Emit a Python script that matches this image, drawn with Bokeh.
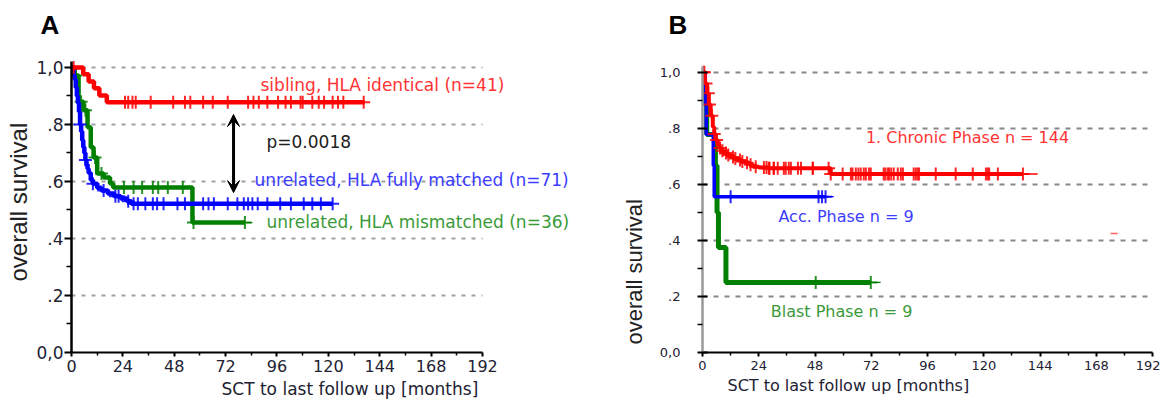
import numpy as np
from bokeh.plotting import figure
from bokeh.layouts import row
from bokeh.models import Label, Arrow, VeeHead, FixedTicker, Title
from bokeh.embed import file_html
from bokeh.resources import INLINE

# ---------------- shared axis data ----------------
x_ticks = [0, 24, 48, 72, 96, 120, 144, 168, 192]
x_minor = [12, 36, 60, 84, 108, 132, 156, 180]
y_ticks = [0, 0.2, 0.4, 0.6, 0.8, 1.0]
y_minor = [0.1, 0.3, 0.5, 0.7, 0.9]
y_tick_labels = ["0,0", ".2", ".4", ".6", ".8", "1,0"]
grid_levels = [0.2, 0.4, 0.6, 0.8, 1.0]

# ---------------- Panel A: donor type ----------------
a_sib_t = [0, 5.5, 8, 10.5, 13, 16.5]
a_sib_s = [1.0, 0.976, 0.951, 0.927, 0.902, 0.878]
a_sib_end = 137
a_sib_cens = [1, 25, 26.5, 28.5, 30, 37, 47.5, 53, 55.5, 61.5, 66, 73, 82.5, 85,
              87.5, 91.5, 96.5, 100, 102.5, 107, 108, 112.5, 115.5, 118, 122,
              124.5, 127, 136.5]

a_mud_t = [0, 1, 1.5, 2, 2.5, 3, 3.5, 4, 4.5, 5, 5.5, 6, 6.5, 7, 7.5, 8, 9, 10,
           12, 14, 17, 20, 23, 26, 28]
a_mud_s = [1.0, 0.972, 0.958, 0.93, 0.9, 0.875, 0.845, 0.80, 0.775, 0.745, 0.72,
           0.70, 0.675, 0.66, 0.645, 0.63, 0.605, 0.592, 0.578, 0.568, 0.558,
           0.548, 0.54, 0.531, 0.522]
a_mud_end = 122
a_mud_cens = [4, 6.5, 10, 15, 20.5, 22, 26.5, 29, 31, 34.5, 38, 40, 43, 49.5, 53,
              61.5, 64, 66.5, 73, 77.5, 80.5, 82.5, 84.5, 87, 91.5, 97.5, 102.5,
              108.5, 112.5, 116.5, 122]

a_mm_t = [0, 1.5, 3.3, 5.6, 7.5, 9, 10.3, 12, 15, 18, 19.5, 56.5]
a_mm_s = [1.0, 0.972, 0.88, 0.85, 0.79, 0.72, 0.684, 0.628, 0.614, 0.593, 0.579, 0.456]
a_mm_end = 81
a_mm_tail = 84.5
a_mm_cens = [2, 4.5, 6.5, 11, 14, 24.5, 29, 33, 38, 40.5, 45, 52, 57, 81]

a_labels = ["sibling, HLA identical (n=41)", "p=0.0018",
            "unrelated, HLA fully matched (n=71)", "unrelated, HLA mismatched (n=36)"]
arrow_x = 75.7
arrow_y = [0.561, 0.835]

# ---------------- Panel B: disease phase ----------------
b_cp_t = [0, 1, 2, 2.7, 3.5, 4.4, 5, 5.7, 6.5, 7.2, 8, 9.1, 10.5, 12, 13.5, 15,
          16.5, 18, 20, 21.5, 24, 28, 54.7]
b_cp_s = [1.0, 0.96, 0.925, 0.885, 0.845, 0.805, 0.78, 0.758, 0.742, 0.73, 0.72,
          0.712, 0.705, 0.698, 0.692, 0.687, 0.682, 0.677, 0.67, 0.663, 0.66,
          0.658, 0.637]
b_cp_end = 136.7
b_cp_tail = 143
b_cp_cens = [0.3, 0.8, 1.5, 2.5, 3, 4, 5, 6, 7.5, 8.5, 10, 11, 13, 14, 16, 17, 19,
             20.5, 22.7, 26.2, 27.3, 28.3, 28.6, 30.3, 30.5, 32.1, 34.7, 35.5,
             36.8, 37.7, 40.7, 42, 47, 47.1, 53.8, 54.7, 59.8, 63.3, 64, 65.4,
             66.5, 67.5, 68.8, 69.7, 71, 71.8, 77.3, 78, 79, 79.6, 80.5, 81.6,
             83.3, 84.6, 85.5, 90.1, 91, 91.8, 92.4, 99.5, 108, 115.3, 120.9,
             121.7, 122.3, 126, 136.7]

b_ap_t = [0, 1.2, 1.6, 4.6, 5.0]
b_ap_s = [1.0, 0.889, 0.778, 0.667, 0.556]
b_ap_end = 52.5
b_ap_tail = 56
b_ap_cens = [12, 49.5, 51, 52.5]

b_bp_t = [0, 0.5, 1.8, 5.5, 6.2, 6.8, 10.0]
b_bp_s = [1.0, 0.889, 0.778, 0.667, 0.5, 0.375, 0.25]
b_bp_end = 71.8
b_bp_tail = 76
b_bp_cens = [48.3, 71.8]

b_stray = ([175.6], [0.425])
b_labels = ["1. Chronic Phase n = 144", "Acc. Phase n = 9", "Blast Phase n = 9"]

x_title = "SCT to last follow up [months]"
y_title = "overall survival"

RED, BLUE, GREEN = "#ff0000", "#0000ff", "#008000"
RED_T, BLUE_T, GREEN_T = "#ff3333", "#3c3cff", "#3a9a3a"
TICK_C = "#222233"
FONT = "DejaVu Sans"


def surv_at(t, s, ct):
    idx = np.searchsorted(np.array(t), np.array(ct), side="right") - 1
    return list(np.array(s)[idx])


def km(p, t, s, end, cens, color, lw, tail=None, msize=13):
    p.step(x=list(t) + [end], y=list(s) + [s[-1]], mode="after",
           line_color=color, line_width=lw)
    if tail is not None:
        p.line(x=[end, tail], y=[s[-1], s[-1]], line_color=color, line_width=1.3)
    p.scatter(x=cens, y=surv_at(t, s, cens), marker="cross", size=msize,
              line_color=color, line_width=2, line_alpha=0.85)


def style(p, xtick_size, ytick_size, y_standoff, x_standoff, y_line_color,
          ytick_in, ytick_out):
    p.outline_line_color = None
    p.background_fill_color = "white"
    p.border_fill_color = "white"
    p.xgrid.visible = False
    xa = p.xaxis[0]
    xa.axis_label = None
    xa.bounds = (x_ticks[0], x_ticks[-1])
    xa.ticker = FixedTicker(ticks=x_ticks, minor_ticks=x_minor)
    xa.axis_line_color = "black"
    xa.axis_line_width = 2
    xa.major_tick_line_color = "black"
    xa.major_tick_line_width = 2
    xa.major_tick_in = 0
    xa.major_tick_out = 4
    xa.minor_tick_line_color = "black"
    xa.minor_tick_line_width = 1.5
    xa.minor_tick_in = 0
    xa.minor_tick_out = 3
    xa.major_label_text_font = FONT
    xa.major_label_text_font_size = xtick_size
    xa.major_label_text_color = TICK_C
    xa.major_label_standoff = x_standoff
    ya = p.yaxis[0]
    ya.axis_label = None
    ya.bounds = (0, 1.02)
    ya.ticker = FixedTicker(ticks=y_ticks, minor_ticks=y_minor)
    ya.major_label_overrides = dict(zip(y_ticks, y_tick_labels))
    ya.axis_line_color = y_line_color
    ya.axis_line_width = 2.5
    ya.major_tick_line_color = "black"
    ya.major_tick_line_width = 2
    ya.major_tick_in = ytick_in
    ya.major_tick_out = ytick_out
    ya.minor_tick_line_color = "black"
    ya.minor_tick_line_width = 1.5
    ya.minor_tick_in = 0
    ya.minor_tick_out = 5
    ya.major_label_text_font = FONT
    ya.major_label_text_font_size = ytick_size
    ya.major_label_text_color = TICK_C
    ya.major_label_standoff = y_standoff


def lab(p, x, y, text, color, size):
    p.add_layout(Label(x=x, y=y, text=text, text_color=color, text_font=FONT,
                       text_font_size=size, text_align="left",
                       text_baseline="middle"))


def side_title(p, side, text, size, font, offset, valign, standoff,
               color="#222222", fstyle="normal"):
    p.add_layout(Title(text=text, align="left", offset=offset,
                       vertical_align=valign, standoff=standoff,
                       text_font=font, text_font_size=size,
                       text_font_style=fstyle, text_color=color), side)


H = 403

# ---------------- figure A ----------------
pA = figure(width=610, height=H, x_range=(0, 251.8), y_range=(0, 1.0877),
            min_border_left=71, min_border_right=0, min_border_top=42,
            min_border_bottom=H - 42 - 310, output_backend="svg",
            toolbar_location=None)
style(pA, "16px", "17px", 1, 3, "black", 0, 7)
pA.ygrid.visible = False
pA.segment(x0=[x_ticks[0]] * len(grid_levels), y0=grid_levels,
           x1=[x_ticks[-1]] * len(grid_levels), y1=grid_levels,
           line_color="#a0a0a0", line_width=2, line_dash="4 6")
km(pA, a_mm_t, a_mm_s, a_mm_end, a_mm_cens, GREEN, 4.5, tail=a_mm_tail)
km(pA, a_mud_t, a_mud_s, a_mud_end, a_mud_cens, BLUE, 4.5)
km(pA, a_sib_t, a_sib_s, a_sib_end, a_sib_cens, RED, 4.5)

pA.add_layout(Arrow(start=VeeHead(size=12, fill_color="black", line_color="black"),
                    end=VeeHead(size=12, fill_color="black", line_color="black"),
                    x_start=arrow_x, y_start=arrow_y[0], x_end=arrow_x, y_end=arrow_y[1],
                    line_width=3, line_color="black"))

lab(pA, 88.3, 0.937, a_labels[0], RED_T, "17px")
lab(pA, 91.1, 0.740, a_labels[1], "#202020", "17px")
lab(pA, 85.5, 0.604, a_labels[2], BLUE_T, "17px")
lab(pA, 91.1, 0.458, a_labels[3], GREEN_T, "17px")

side_title(pA, "above", "A", "26px", "Liberation Sans", -31, "bottom", 5,
           color="black", fstyle="bold")
side_title(pA, "below", x_title, "17px", FONT, 150, "bottom", 4, color=TICK_C)
side_title(pA, "left", y_title, "24px", "Liberation Sans", 71, "bottom", 4)

# ---------------- figure B ----------------
pB = figure(width=550, height=H, x_range=(0, 192.4), y_range=(0, 1.1064),
            min_border_left=92, min_border_right=7, min_border_top=42,
            min_border_bottom=H - 42 - 312, output_backend="svg",
            toolbar_location=None)
style(pB, "13px", "13px", 17, 4, "#999999", 5, 5)
pB.xaxis[0].major_label_text_align = "right"
pB.ygrid.ticker = FixedTicker(ticks=grid_levels)
pB.ygrid.grid_line_color = "#888888"
pB.ygrid.grid_line_dash = "5 6"
pB.ygrid.grid_line_width = 2
km(pB, b_bp_t, b_bp_s, b_bp_end, b_bp_cens, GREEN, 5, tail=b_bp_tail)
km(pB, b_ap_t, b_ap_s, b_ap_end, b_ap_cens, BLUE, 3.5, tail=b_ap_tail)
km(pB, b_cp_t, b_cp_s, b_cp_end, b_cp_cens, RED, 4, tail=b_cp_tail)
pB.scatter(x=b_stray[0], y=b_stray[1], marker="dash", size=7, line_color="#ff6060",
           line_width=1.5)

lab(pB, 69.7, 0.766, b_labels[0], RED_T, "16px")
lab(pB, 32.4, 0.486, b_labels[1], BLUE_T, "16px")
lab(pB, 29.1, 0.145, b_labels[2], GREEN_T, "16px")

side_title(pB, "above", "B", "26px", "Liberation Sans", -34, "bottom", 5,
           color="black", fstyle="bold")
side_title(pB, "below", x_title, "16px", FONT, 25, "bottom", 2, color=TICK_C)
side_title(pB, "left", y_title, "22px", "Liberation Sans", 8, "bottom", 19)

layout = row(pA, pB)
open("out.html", "w").write(file_html(layout, INLINE))
